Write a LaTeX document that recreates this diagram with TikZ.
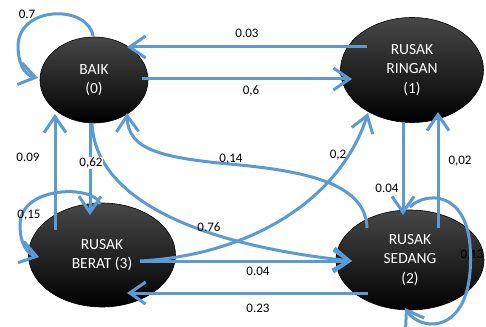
\documentclass[tikz,border=0pt]{standalone}
\usepackage{fontspec}
\setmainfont{Carlito}
\usetikzlibrary{arrows.meta,calc,shapes.geometric}
\definecolor{arrowblue}{RGB}{91,155,213}
\begin{document}
\begin{tikzpicture}[x=1pt,y=-1pt,
  state/.style={ellipse, draw=black, line width=0.6pt, top color=black!72, middle color=black, bottom color=black,
    text=white, align=center, font=\fontsize{15.5}{19.5}\selectfont, inner sep=0pt},
  arr/.style={draw=arrowblue, line width=3pt, -{Straight Barb[length=16pt,width=22pt]}},
  lbl/.style={font=\fontsize{13}{15}\selectfont, inner sep=1pt, text=black}]
\clip (0,0) rectangle (486,326);
\useasboundingbox (0,0) rectangle (486,326);
\fill[white] (0,0) rectangle (486,326);

% states
\node[state, minimum width=108pt, minimum height=86pt] (b) at (94,80) {BAIK\\(0)};
\node[state, minimum width=143pt, minimum height=105pt] (r) at (412,70) {RUSAK\\RINGAN\\(1)};
\node[state, minimum width=147pt, minimum height=104pt] (t) at (102,255) {RUSAK\\BERAT (3)};
\node[state, minimum width=148pt, minimum height=100pt] (s) at (410,260) {RUSAK\\SEDANG\\(2)};

% label drawn under the loop
\node[lbl] (l13) at (472,255) {0,13};

% straight transitions
\draw[arr] ($(r)+(-45,-23)$) -- ($(b)+(33,-33)$);
\draw[arr] ($(b)+(48,-1)$) -- ($(r)+(-60,9)$);
\draw[arr] ($(t)+(-47,-25)$) -- ($(b)+(-39,34)$);
\draw[arr] ($(b)+(-4,43)$) -- ($(t)+(-12,-40)$);
\draw[arr] ($(r)+(-9,52)$) -- ($(s)+(-7,-45)$);
\draw[arr] ($(s)+(28,-32)$) -- ($(r)+(26,42)$);
\draw[arr] ($(s)+(-42,33)$) -- ($(t)+(25,38)$);
\draw[arr] ($(t)+(38,6)$) -- ($(s)+(-58,1)$);

% curved transitions
\draw[arr] ($(b)+(-2,43)$) .. controls +(3,77) and +(-152,-16) .. ($(s)+(-58,1)$);
\draw[arr] ($(t)+(38,6)$) .. controls +(110,-6) and +(-28,87) .. ($(r)+(-44,43)$);
\draw[arr] ($(s)+(-43,-32)$) .. controls +(-1,-43) and +(70,7) .. ($(b)+(146,85)$)
  .. controls +(-80,-7) and +(1,37) .. ($(b)+(33,33)$);

% self loops
\draw[arr] ($(b)+(-1,-44)$) .. controls +(-5,-31) and +(2,-40) .. ($(b)+(-76,-35)$)
  .. controls +(0,20) and +(-13,-3) .. ($(b)+(-56,-2)$);
\draw[arr] ($(t)+(-2,-51)$) .. controls +(-5,-19) and +(0,-40) .. ($(t)+(-82,-30)$)
  .. controls +(0,20) and +(-11,-3) .. ($(t)+(-63,2)$);
\draw[arr] ($(s)+(0,-53)$) .. controls +(15,-15) and +(-5,-55) .. ($(s)+(60,-15)$)
  .. controls +(4,55) and +(25,1) .. ($(s)+(20,64)$)
  .. controls +(-12,-1) and +(5,8) .. ($(s)+(-5,48)$);

% labels
\node[lbl] (l7)  at (27,14)   {0.7};
\node[lbl] (l03) at (247,33)  {0.03};
\node[lbl] (l6)  at (251,91)  {0,6};
\node[lbl] (l09) at (28,157)  {0.09};
\node[lbl, fill=white, inner sep=0.5pt] (l62) at (91,163) {0,62};
\node[lbl] (l14) at (231,159) {0,14};
\node[lbl] (l2)  at (338,155) {0,2};
\node[lbl] (l76) at (209,227) {0.76};
\node[lbl] (l04a) at (387,188) {0.04};
\node[lbl] (l02) at (460,161) {0,02};
\node[lbl] (l15) at (29,215)  {0,15};
\node[lbl] (l04b) at (258,271) {0.04};
\node[lbl] (l23) at (258,308) {0.23};
\end{tikzpicture}
\end{document}
